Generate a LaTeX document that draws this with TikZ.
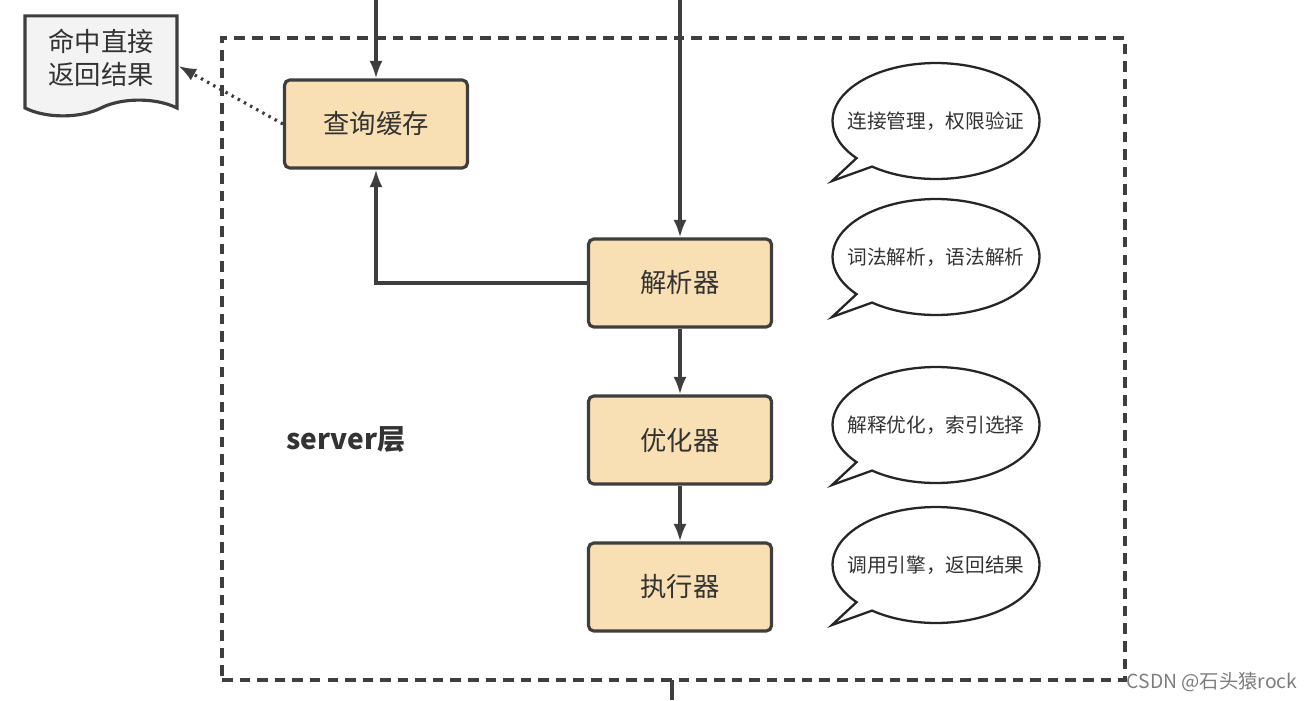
\documentclass[tikz,border=0pt]{standalone}
\usepackage{fontspec}
\setmainfont{Noto Sans CJK SC}
\usepackage{tikz}
\usetikzlibrary{positioning,arrows.meta,shapes.symbols,shapes.callouts}
\definecolor{boxfill}{RGB}{249,224,180}
\definecolor{linegray}{RGB}{62,62,62}
\definecolor{docfill}{RGB}{243,243,243}
\definecolor{textgray}{RGB}{51,51,51}
\definecolor{markgray}{RGB}{125,125,125}
\tikzset{
>={Latex[length=10pt,width=7.5pt]},
  stage/.style={
    rectangle,
    rounded corners=3pt,
    fill=boxfill,
    draw=linegray, line width=1.8pt,
    minimum width=3.66cm,
    minimum height=1.76cm,
    text=textgray,
    font=\fontsize{15}{18}\selectfont},
  bubble/.style={
    ellipse callout,
    callout pointer arc=12,
    fill=white,
    draw=black!85, line width=1.3pt,
    minimum width=4.14cm,
    minimum height=2.32cm,
    inner xsep=-0.5cm,
    inner ysep=0pt,
    text=textgray,
    font=\fontsize{11.2}{13}\selectfont},
  result/.style={
    tape,
    tape bend top=none,
    tape bend bottom=in and out,
    tape bend height=9pt,
    fill=docfill,
    draw=linegray, line width=1.8pt,
    minimum width=3.04cm,
    minimum height=2.0cm,
    align=center,
    text=textgray,
    font=\fontsize{15}{19}\selectfont},
  frame/.style={
    rectangle,
    draw=linegray, line width=1.9pt,
    dash pattern=on 6pt off 4pt,
    outer sep=0pt,
    minimum width=18.06cm,
    minimum height=12.84cm},
  flow/.style={draw=linegray, line width=1.8pt, ->},
  hint/.style={draw=linegray, line width=1.8pt, dash pattern=on 1.4pt off 2.6pt, ->},
}

\begin{document}
\begin{tikzpicture}[x=0.02cm, y=-0.02cm]
	\useasboundingbox (0,0) rectangle (1308,700);

	% server layer frame
	\node[frame] (server) at (673.5,359) {};
	\node[font=\bfseries\fontsize{16}{19}\selectfont, text=textgray] (server-label) at (346,440) {server层};

	% stages
	\node[stage] (cache) at (376,124) {查询缓存};
	\node[stage] (parser) at (680,283) {解析器};
	\node[stage] (optimizer) at (680,440) {优化器};
	\node[stage] (executor) at (680,587) {执行器};

	\node[result] (hit) at (101,58) {命中直接\\返回结果};

	% remarks
	\node[bubble, callout absolute pointer={(832,181)}] (remark-conn) at (936,121) {连接管理，权限验证};
	\node[bubble, callout absolute pointer={(832,317)}] (remark-parse) at (936,257) {词法解析，语法解析};
	\node[bubble, callout absolute pointer={(832,485)}] (remark-opt) at (936,425) {解释优化，索引选择};
	\node[bubble, callout absolute pointer={(832,625)}] (remark-exec) at (936,565) {调用引擎，返回结果};

	% connectors
	\coordinate (in-cache) at (376,0);
	\coordinate (in-parser) at (680,0);
	\coordinate (out) at (672,700);
	\draw[flow] (in-cache) -- (cache);
	\draw[flow] (in-parser) -- (parser);
	\draw[flow] (parser.west) -| (cache.south);
	\draw[flow] (parser) -- (optimizer);
	\draw[flow] (optimizer) -- (executor);
	\draw[hint] (cache.west) -- ([yshift=-0.16cm]hit.east);
	\draw[draw=linegray, line width=1.8pt] (server.south -| out) -- (out);

	\node[font=\fontsize{11}{13}\selectfont, text=markgray] (mark) at (1212,682) {CSDN @石头猿rock};
\end{tikzpicture}
\end{document}
